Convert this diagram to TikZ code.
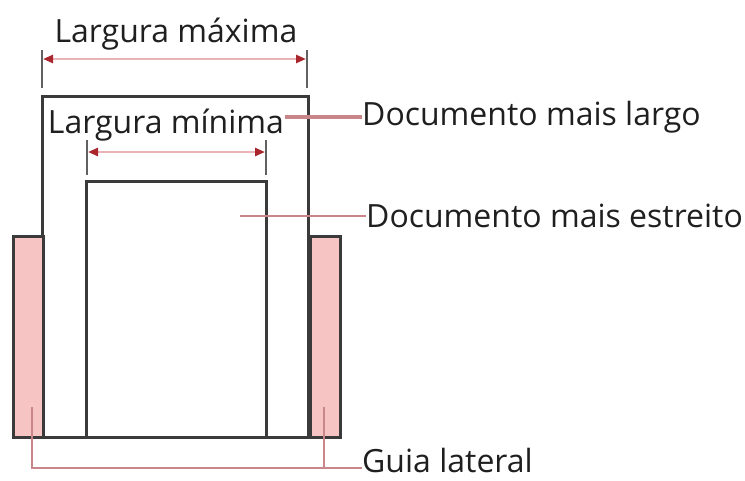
\documentclass[tikz,border=0pt]{standalone}
\usepackage{fontspec}
\setmainfont{Open Sans}
\usetikzlibrary{arrows.meta, positioning}
\definecolor{guideFill}{HTML}{F7C4C4}
\definecolor{guideRed}{HTML}{A8262C}
\definecolor{dimPink}{HTML}{E9B4B6}
\definecolor{leaderPink}{HTML}{C8868A}
\definecolor{paperEdge}{HTML}{3A3A3A}

\begin{document}
\begin{tikzpicture}[
    x=1pt, y=-1pt,
    paper/.style={draw=paperEdge, line width=3pt, fill=white},
    guide/.style={draw=paperEdge, line width=3pt, fill=guideFill},
    tick/.style={draw=paperEdge!80, line width=1.6pt},
    dimline/.style={{Triangle[color=guideRed, length=10pt, width=8pt]}-{Triangle[color=guideRed, length=10pt, width=8pt]}, draw=dimPink, line width=2.6pt},
    leader/.style={draw=leaderPink, line width=2.8pt},
    caption/.style={font=\fontsize{32}{36}\selectfont, text=black!88, inner sep=0pt},
]
\useasboundingbox (0,0) rectangle (745,480);

% documents and side guides
\draw[paper] (42,96) rectangle (308,437);
\draw[paper] (86,181) rectangle (266,437);
\draw[guide] (13,236) rectangle (43,437);
\draw[guide] (310,236) rectangle (340,437);

% maximum width
\draw[tick] (42,50) -- (42,88);
\draw[tick] (307,50) -- (307,88);
\coordinate (maxL) at (43,59);
\coordinate (maxR) at (306,59);
\draw[dimline] (maxL) -- (maxR);
\node[caption, anchor=base] (maxw) at (176,42) {Largura máxima};

% minimum width
\draw[tick] (87,140) -- (87,175);
\draw[tick] (266,140) -- (266,175);
\coordinate (minL) at (88,152);
\coordinate (minR) at (265,152);
\draw[dimline] (minL) -- (minR);
\node[caption, anchor=base] (minw) at (166,133) {Largura mínima};

% labels
\node[caption, anchor=base west] (wide) at (362,125) {Documento mais largo};
\node[caption, anchor=base west] (narrow) at (366,227) {Documento mais estreito};
\node[caption, anchor=base west] (side) at (362,472) {Guia lateral};

\coordinate (wideEnd) at (285,117);
\coordinate (narrowEnd) at (240,216);
\coordinate (guideL) at (32,407);
\coordinate (guideR) at (324,407);

\draw[leader, line width=4.5pt] (wideEnd) -- (wide.west |- wideEnd);
\draw[leader, line width=2.2pt] (narrowEnd) -- (narrow.west |- narrowEnd);
\draw[leader] (guideL) |- (side.west |- 0,468);
\draw[leader] (guideR) -- (guideR |- 0,468);

\end{tikzpicture}
\end{document}
